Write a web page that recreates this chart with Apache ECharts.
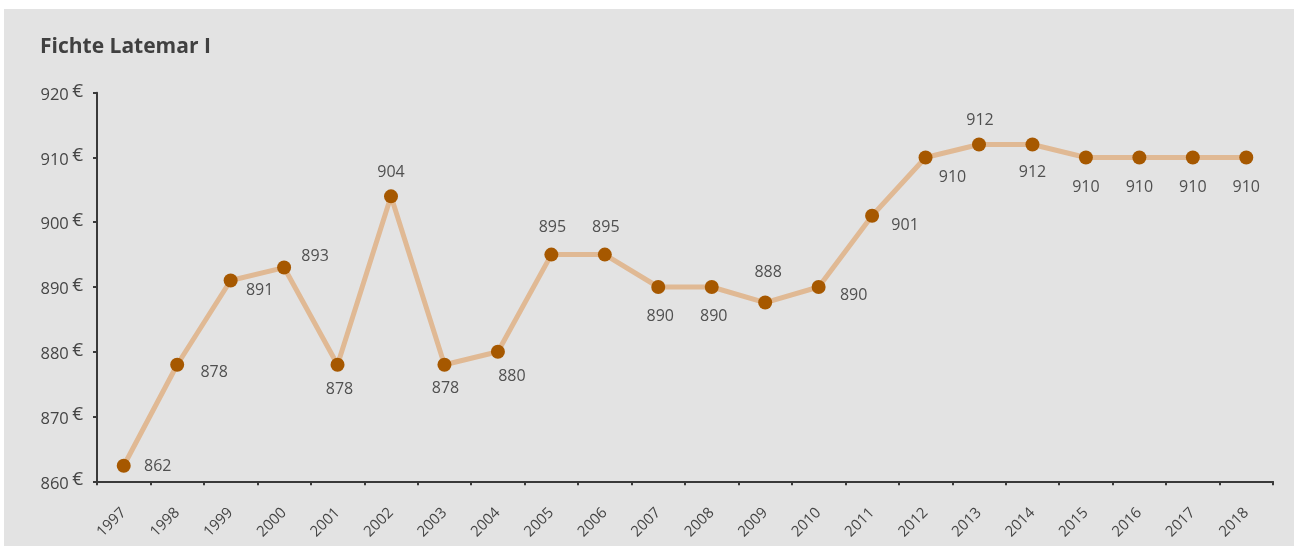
<!DOCTYPE html>
<html>
<head>
<meta charset="utf-8">
<script src="https://cdn.jsdelivr.net/npm/echarts@6/dist/echarts.min.js"></script>
<style>
  html, body { margin: 0; padding: 0; background: #ffffff; }
  #chart { position: absolute; left: 4px; top: 9px; width: 1290px; height: 537px; background: #e3e3e3; }
</style>
</head>
<body>
<div id="chart"></div>
<script>
const titleText = 'Fichte Latemar I';
const years = ['1997','1998','1999','2000','2001','2002','2003','2004','2005','2006','2007','2008','2009','2010','2011','2012','2013','2014','2015','2016','2017','2018'];
const prices = [862.4, 878, 891, 893, 878, 904, 878, 880, 895, 895, 890, 890, 887.6, 890, 901, 910, 912, 912, 910, 910, 910, 910];
const yTicks = [860, 870, 880, 890, 900, 910, 920];

// label placement (styling only): offset from the marker centre
const labelOffsets = [
  [34, 1], [37, 8], [29, 10], [31, -11], [2, 25], [0, -24], [1, 24], [14, 25],
  [1, -27], [1, -27], [2, 29], [2, 29], [3, -30], [35, 8], [33, 10], [27, 20],
  [1, -24], [0, 28], [0, 30], [0, 30], [0, 30], [0, 30]
];

const chart = echarts.init(document.getElementById('chart'));
const font = '"Open Sans", "DejaVu Sans", sans-serif';

chart.setOption({
  backgroundColor: '#e3e3e3',
  animation: false,
  title: {
    text: titleText,
    left: 31,
    top: 23,
    textStyle: { fontFamily: font, fontWeight: 'bold', fontSize: 21, color: '#404040' }
  },
  grid: { left: 93, right: 21, top: 83.7, bottom: 64.7, outerBoundsMode: 'none', containLabel: false },
  xAxis: {
    type: 'category',
    data: years,
    boundaryGap: true,
    axisLine: { lineStyle: { color: '#3a3a3a', width: 2 } },
    axisTick: { show: true, length: 4, inside: false, lineStyle: { color: '#3a3a3a', width: 2 } },
    axisLabel: { rotate: 45, margin: 29, fontFamily: font, fontSize: 15, color: '#454545' },
    splitLine: { show: false }
  },
  yAxis: {
    type: 'value',
    min: yTicks[0],
    max: yTicks[yTicks.length - 1],
    interval: 10,
    axisLine: { show: true, lineStyle: { color: '#3a3a3a', width: 2 } },
    axisTick: { show: true, length: 4, lineStyle: { color: '#3a3a3a', width: 2 } },
    splitLine: { show: false },
    axisLabel: {
      margin: 14,
      formatter: function (v) { return '{n|' + v + '} {e|€}'; },
      rich: {
        n: { fontFamily: font, fontSize: 16.5, color: '#454545', lineHeight: 22, verticalAlign: 'bottom', padding: [4, 0, 0, 0] },
        e: { fontFamily: font, fontSize: 19, color: '#454545', lineHeight: 22, verticalAlign: 'top', padding: [0, 0, 4, 0] }
      }
    }
  },
  series: [{
    type: 'line',
    data: prices.map(function (v, i) {
      return { value: v, label: { offset: labelOffsets[i] } };
    }),
    lineStyle: { color: '#e0b994', width: 5 },
    symbol: 'circle',
    symbolSize: 14,
    itemStyle: { color: '#a65800', borderWidth: 0 },
    label: {
      show: true,
      position: 'inside',
      fontFamily: font,
      fontSize: 16,
      color: '#505050',
      formatter: function (p) { return Math.round(p.value); }
    },
    z: 3
  }]
});
</script>
</body>
</html>
